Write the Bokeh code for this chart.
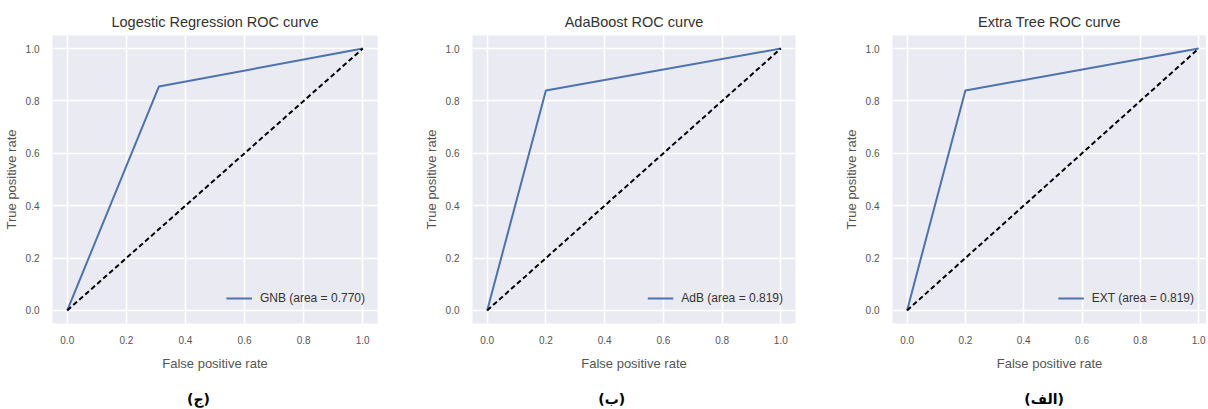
from bokeh.plotting import figure
from bokeh.layouts import row
from bokeh.models import PrintfTickFormatter, Range1d, Legend, LegendItem, LinearAxis, FixedTicker
from bokeh.embed import file_html
from bokeh.resources import INLINE

# ---- data ----
titles = ["Logestic Regression ROC curve", "AdaBoost ROC curve", "Extra Tree ROC curve"]
legend_labels = ["GNB (area = 0.770)", "AdB (area = 0.819)", "EXT (area = 0.819)"]
captions = ["(ج)", "(ب)", "(الف)"]
fpr_lr = [0.0, 0.31, 1.0]
tpr_lr = [0.0, 0.855, 1.0]
fpr_ada = [0.0, 0.20, 1.0]
tpr_ada = [0.0, 0.84, 1.0]
fpr_ext = [0.0, 0.20, 1.0]
tpr_ext = [0.0, 0.84, 1.0]
chance_x = [0.0, 1.0]
chance_y = [0.0, 1.0]
ticks = [0.0, 0.2, 0.4, 0.6, 0.8, 1.0]
x_label = "False positive rate"
y_label = "True positive rate"

FONT = "Liberation Sans"
series = [(fpr_lr, tpr_lr), (fpr_ada, tpr_ada), (fpr_ext, tpr_ext)]

# layout specs: width, border_left, border_right, x_end, caption anchor (in x-axis units)
specs = [
    (420, 52, 43, 1.05, 0.444),
    (420, 49, 45, 1.05, 0.424),
    (366, 48, 0, 1.027, 0.47),
]
H = 409

figs = []
for i, (w, bl, br, xend, capx) in enumerate(specs):
    p = figure(width=w, height=H, output_backend="svg", toolbar_location=None,
               x_range=Range1d(-0.05, xend), y_range=Range1d(-0.05, 1.05),
               min_border_left=bl, min_border_right=br, min_border_top=35,
               min_border_bottom=H - 323)
    p.background_fill_color = "#EAEAF2"
    p.border_fill_color = "white"
    p.outline_line_color = None

    p.title.text = titles[i]
    p.title.align = "center"
    p.title.text_font = FONT
    p.title.text_font_size = "14.5px"
    p.title.text_font_style = "normal"
    p.title.text_color = "#333333"
    p.title.standoff = 12

    for ax in (p.xaxis, p.yaxis):
        ax.ticker = ticks
        ax.formatter = PrintfTickFormatter(format="%.1f")
        ax.axis_line_color = None
        ax.major_tick_line_color = None
        ax.minor_tick_line_color = None
        ax.major_tick_out = 0
        ax.major_tick_in = 0
        ax.major_label_text_font = FONT
        ax.major_label_text_font_size = "10px"
        ax.major_label_text_color = "#555555"
        ax.axis_label_text_font = FONT
        ax.axis_label_text_font_size = "13px"
        ax.axis_label_text_font_style = "normal"
        ax.axis_label_text_color = "#555555"
    p.xaxis.axis_label = x_label
    p.yaxis.axis_label = y_label
    p.xaxis.major_label_standoff = 12
    p.xaxis.axis_label_standoff = 9
    p.yaxis.major_label_standoff = 13
    p.yaxis.axis_label_standoff = 4

    p.xgrid.ticker = ticks
    p.ygrid.ticker = ticks
    p.grid.grid_line_color = "white"
    p.grid.grid_line_width = 1.5

    fx, fy = series[i]
    roc = p.line(fx, fy, line_color="#4C72B0", line_width=2)
    p.line(chance_x, chance_y, line_color="black", line_width=2, line_dash="5 3")

    leg = Legend(items=[LegendItem(label=legend_labels[i], renderers=[roc])],
                 location="bottom_right")
    leg.background_fill_alpha = 0
    leg.border_line_alpha = 0
    leg.label_text_font = FONT
    leg.label_text_font_size = "12px"
    leg.label_text_color = "#333333"
    leg.glyph_width = 26
    leg.glyph_height = 26
    leg.label_height = 26
    leg.label_standoff = 8
    leg.margin = 0
    leg.padding = 12
    p.add_layout(leg, "center")

    # caption placed as a single labelled position on an extra bottom axis
    cap_axis = LinearAxis(ticker=FixedTicker(ticks=[capx]),
                          major_label_overrides={capx: captions[i]})
    cap_axis.axis_line_color = None
    cap_axis.major_tick_line_color = None
    cap_axis.minor_tick_line_color = None
    cap_axis.major_tick_out = 0
    cap_axis.major_tick_in = 0
    cap_axis.major_label_standoff = 17
    cap_axis.major_label_text_font = "DejaVu Sans"
    cap_axis.major_label_text_font_size = "14px"
    cap_axis.major_label_text_font_style = "bold"
    cap_axis.major_label_text_color = "black"
    p.add_layout(cap_axis, "below")
    figs.append(p)

layout = row(*figs, spacing=0)
open("out.html", "w").write(file_html(layout, INLINE))
